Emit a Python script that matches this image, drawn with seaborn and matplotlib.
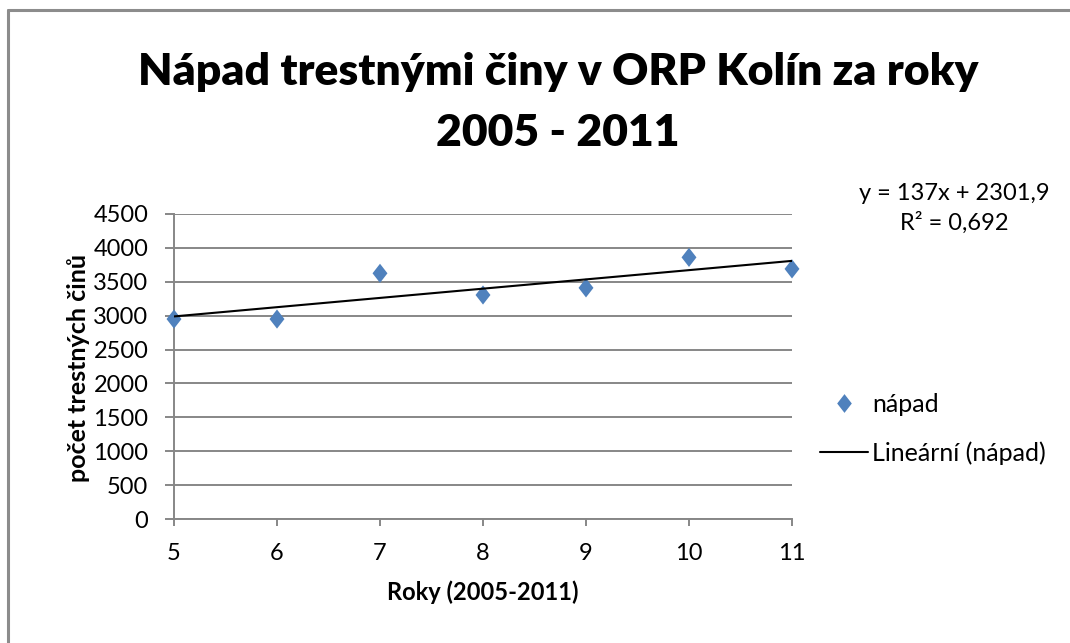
import numpy as np
import pandas as pd
import matplotlib
matplotlib.use("Agg")
import matplotlib.pyplot as plt
from matplotlib.path import Path
from matplotlib.lines import Line2D
import seaborn as sns

# ---- data ----
roky = [5, 6, 7, 8, 9, 10, 11]
napad = [2950, 2950, 3625, 3305, 3410, 3860, 3690]
y_ticks = [0, 500, 1000, 1500, 2000, 2500, 3000, 3500, 4000, 4500]
x_ticks = [5, 6, 7, 8, 9, 10, 11]
title_lines = ["Nápad trestnými činy v ORP Kolín za roky", "2005 - 2011"]
eq_text = "y = 137x + 2301,9"
r2_text = "R² = 0,692"
series_label = "nápad"
trend_label = "Lineární (nápad)"

df = pd.DataFrame({"rok": roky, "napad": napad})

sns.set_style("white")
plt.rcParams['font.family'] = ['Lato', 'DejaVu Sans']
plt.rcParams['text.color'] = 'black'
plt.rcParams['xtick.labelcolor'] = 'black'
plt.rcParams['ytick.labelcolor'] = 'black'

W, H = 1070, 643
fig = plt.figure(figsize=(W / 100, H / 100), dpi=100)
fig.patch.set_facecolor("white")

def fx(px):
    return px / W

def fy(py):
    return 1 - py / H

ax = fig.add_axes([fx(174), fy(519), fx(792) - fx(174), fy(214) - fy(519)])

grid_c = "#878787"
blue = "#4F81BD"

diamond = Path([(0, 1), (0.78, 0), (0, -1), (-0.78, 0), (0, 1)],
               [Path.MOVETO, Path.LINETO, Path.LINETO, Path.LINETO, Path.CLOSEPOLY])

sns.regplot(data=df, x="rok", y="napad", ax=ax, scatter=False, ci=None, truncate=True,
            line_kws={"color": "black", "lw": 1.5, "zorder": 4})
sns.scatterplot(data=df, x="rok", y="napad", ax=ax, marker=diamond, s=190,
                color=blue, edgecolor="none", linewidth=0, zorder=3, clip_on=False)

ax.set_xlim(5, 11)
ax.set_ylim(0, 4500)
ax.set_xticks(x_ticks)
ax.set_yticks(y_ticks)
ax.yaxis.grid(True, color=grid_c, lw=1.4)
ax.xaxis.grid(False)
for s in ["top", "right"]:
    ax.spines[s].set_visible(False)
ax.spines["left"].set_color(grid_c)
ax.spines["left"].set_linewidth(1.4)
ax.spines["bottom"].set_color(grid_c)
ax.spines["bottom"].set_linewidth(1.4)
ax.tick_params(axis="y", direction="out", length=6.5, width=1.4, color=grid_c,
               pad=12, labelsize=17, left=True)
ax.tick_params(axis="x", direction="out", length=5, width=1.4, color=grid_c,
               pad=12, labelsize=17, bottom=True)
ax.set_xlabel("")
ax.set_ylabel("")

# axis titles
fig.text(fx(483), fy(592), "Roky (2005-2011)", ha="center", va="center",
         fontsize=17, fontweight="bold")
fig.text(fx(79), fy(368), "počet trestných činů", ha="center", va="center",
         rotation=90, fontsize=18, fontweight="bold")

# chart title
fig.text(fx(558), fy(72), title_lines[0], ha="center", va="center",
         fontsize=32, fontweight="heavy")
fig.text(fx(558), fy(133), title_lines[1], ha="center", va="center",
         fontsize=32, fontweight="heavy")

# trendline equation
fig.text(fx(954), fy(193), eq_text, ha="center", va="center", fontsize=17)
fig.text(fx(954), fy(223), r2_text, ha="center", va="center", fontsize=17)

# legend
h1 = Line2D([], [], linestyle="none", marker=diamond, markersize=13.5,
            markerfacecolor=blue, markeredgecolor="none")
h2 = Line2D([], [], color="black", lw=1.5)
fig.legend([h1, h2], [series_label, trend_label], loc="center left",
           bbox_to_anchor=(fx(820), fy(429)), frameon=False, fontsize=18,
           handlelength=1.9, handletextpad=0.2, labelspacing=1.0,
           borderpad=0, borderaxespad=0)

# chart border (left and top visible)
fig.add_artist(Line2D([fx(7.5), fx(7.5)], [0, fy(9.5)], color="#8c8c8c", lw=2.2,
                      transform=fig.transFigure))
fig.add_artist(Line2D([fx(7.5), 1], [fy(9.5), fy(9.5)], color="#8c8c8c", lw=2.2,
                      transform=fig.transFigure))

fig.savefig("out.png", dpi=100, facecolor="white")
